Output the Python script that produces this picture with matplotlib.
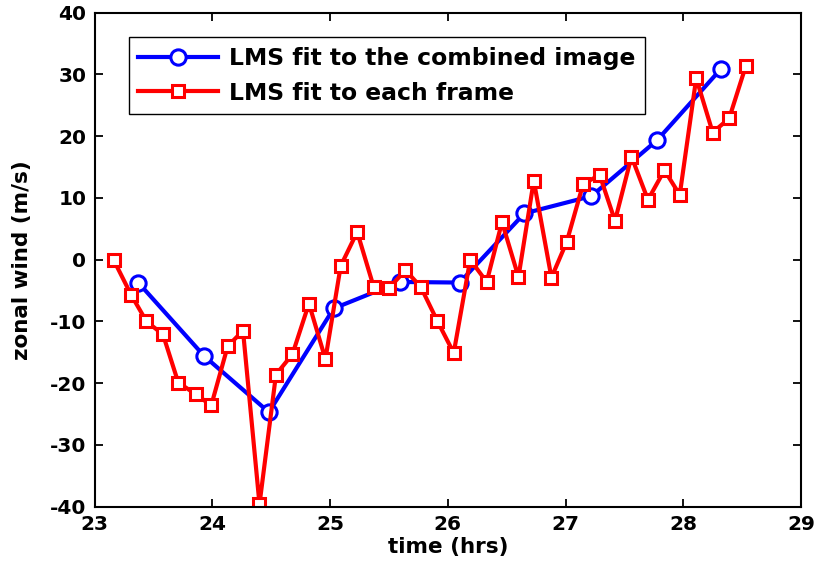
import numpy as np
import matplotlib
matplotlib.use('Agg')
import matplotlib.pyplot as plt

plt.rcParams['font.family'] = ['DejaVu Sans']
plt.rcParams['font.weight'] = 'bold'
plt.rcParams['axes.unicode_minus'] = False

# LMS 結果: 合成画像へのフィット
t_comb = [23.37, 23.93, 24.48, 25.03, 25.59, 26.10, 26.65, 27.22, 27.78, 28.32]
u_comb = [-3.7, -15.6, -24.7, -7.9, -3.6, -3.7, 7.5, 10.3, 19.4, 30.9]

# LMS 結果: 各フレームへのフィット
t_frame = [23.16, 23.31, 23.44, 23.58, 23.71, 23.86, 23.99, 24.13, 24.26, 24.40,
           24.54, 24.68, 24.82, 24.96, 25.09, 25.23, 25.37, 25.50, 25.64, 25.77,
           25.91, 26.05, 26.19, 26.33, 26.46, 26.60, 26.73, 26.88, 27.01, 27.15,
           27.29, 27.42, 27.56, 27.70, 27.84, 27.97, 28.11, 28.25, 28.39, 28.53]
u_frame = [0.0, -5.7, -10.0, -12.1, -19.9, -21.8, -23.6, -14.0, -11.5, -39.6,
           -18.6, -15.3, -7.1, -16.1, -1.0, 4.5, -4.4, -4.6, -1.7, -4.4,
           -9.9, -15.1, 0.0, -3.6, 6.1, -2.8, 12.8, -2.9, 2.9, 12.3,
           13.7, 6.3, 16.7, 9.7, 14.5, 10.5, 29.4, 20.6, 22.9, 31.3]

xticks = [23, 24, 25, 26, 27, 28, 29]
yticks = [-40, -30, -20, -10, 0, 10, 20, 30, 40]

fig = plt.figure(figsize=(8.17, 5.73), dpi=100)
ax = fig.add_axes([0.1159, 0.1157, 0.8645, 0.8621])

ax.plot(t_comb, u_comb, '-o', color='#0000ff', lw=3, ms=11, mew=2.2,
        mfc='white', mec='#0000ff', label='LMS fit to the combined image')
ax.plot(t_frame, u_frame, '-s', color='#ff0000', lw=3, ms=9, mew=2.2,
        mfc='white', mec='#ff0000', label='LMS fit to each frame')

ax.set_xlim(23, 29)
ax.set_ylim(-40, 40)
ax.set_xticks(xticks)
ax.set_yticks(yticks)
ax.tick_params(direction='in', length=6, width=1.3, top=True, right=True,
               labelsize=14.5, pad=6)
for lab in ax.get_xticklabels() + ax.get_yticklabels():
    lab.set_fontweight('bold')
for s in ax.spines.values():
    s.set_linewidth(1.5)

ax.set_xlabel('time (hrs)', fontsize=15.5, fontweight='bold', labelpad=2)
ax.set_ylabel('zonal wind (m/s)', fontsize=15.5, fontweight='bold', labelpad=13)

leg = ax.legend(loc='upper left', bbox_to_anchor=(0.0486, 0.950),
                borderaxespad=0, fontsize=16.9, handlelength=3.4,
                handletextpad=0.45, labelspacing=0.5, borderpad=0.4,
                fancybox=False, framealpha=1, edgecolor='black')
leg.get_frame().set_linewidth(1.0)
for txt in leg.get_texts():
    txt.set_fontweight('bold')

fig.savefig('out.png', dpi=100)
